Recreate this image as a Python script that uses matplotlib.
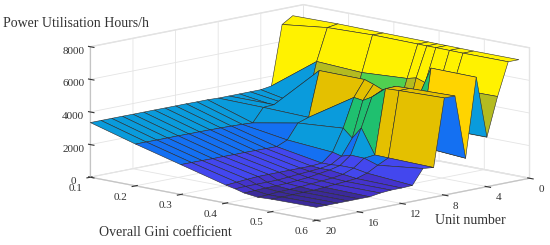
import numpy as np
import matplotlib
matplotlib.use('Agg')
import matplotlib.pyplot as plt
from matplotlib.colors import ListedColormap, BoundaryNorm

plt.rcParams['font.family'] = ['Liberation Serif', 'DejaVu Serif']
plt.rcParams['grid.color'] = '#e4e4e4'
plt.rcParams['grid.linewidth'] = 0.6

gini = [0.1, 0.2, 0.3, 0.4, 0.42, 0.44, 0.47, 0.5, 0.6]
units = list(range(1, 21))

# one row per unit number, one value per gini column
hours = [
    [7450, 7480, 7450, 7430, 7420, 7420, 7410, 7400, 7400],
    [7040, 7380, 7460, 7430, 7420, 7420, 7410, 7400, 7400],
    [3400, 5430, 5280, 5450, 5590, 5400, 5300, 5370, 5400],
    [3300, 2750, 3000, 3300, 3000, 3000, 3000, 3040, 3040],
    [3300, 2900, 3000, 3000, 3100, 3500, 4800, 6870, 6840],
    [3300, 2900, 3000, 3000, 3000, 2900, 2500, 2200, 2000],
    [3300, 3300, 5920, 5900, 5710, 5480, 5850, 5880, 5950],
    [3300, 3260, 3180, 4930, 4850, 5170, 5840, 5880, 5960],
    [3330, 2440, 2960, 3175, 2670, 3400, 1900, 1880, 1820],
    [3330, 2480, 2050, 1830, 1690, 1860, 1830, 1560, 1890],
    [3340, 2500, 1770, 1290, 1300, 1350, 1350, 1200, 980],
    [3340, 2520, 1780, 1240, 1200, 1200, 1100, 1000, 950],
    [3340, 2530, 1790, 1240, 1150, 1100, 1000, 950, 950],
    [3345, 2540, 1800, 1240, 1100, 1000, 950, 900, 900],
    [3345, 2540, 1800, 1240, 1050, 950, 900, 850, 800],
    [3345, 2550, 1810, 1240, 1000, 900, 850, 800, 800],
    [3350, 2550, 1810, 1240, 1000, 880, 820, 800, 800],
    [3350, 2550, 1820, 1200, 1000, 870, 800, 780, 800],
    [3350, 2560, 1830, 1150, 1000, 850, 750, 770, 800],
    [3350, 2560, 1830, 1100, 980, 830, 730, 770, 800],
]

levels = [0, 900, 1250, 1900, 2700, 3500, 4500, 5200, 5350, 5500, 6100, 7000, 8000]
colors = ['#3b2a9a', '#4433cc', '#4347ee', '#1470f2', '#0a9bdc', '#10b8c0',
          '#1fc06f', '#50d050', '#b4bb20', '#e4c000', '#ffd400', '#fff200']

z_ticks = [0, 2000, 4000, 6000, 8000]
gini_ticks = [0.1, 0.2, 0.3, 0.4, 0.5, 0.6]
unit_ticks = [0, 4, 8, 12, 16, 20]

X, Y = np.meshgrid(gini, units)
Z = np.array(hours, dtype=float)
cmap = ListedColormap(colors)
norm = BoundaryNorm(levels, cmap.N)

fig = plt.figure(figsize=(5.5, 2.45), dpi=100)
# square axes bigger than the figure so the surface is not clipped
ax = fig.add_axes([0.05, -0.612, 1.0, 2.245], projection='3d', proj_type='ortho')
ax.view_init(elev=11.2, azim=-45.5)
ax.set_box_aspect((317, 304, 133), zoom=0.81)

ax.plot_surface(X, Y, Z, rstride=1, cstride=1, facecolors=cmap(norm(Z)),
                edgecolor='#2a2a2a', linewidth=0.4, shade=False, antialiased=True)

ax.set_xlim(0.1, 0.6, view_margin=0)
ax.set_ylim(20, 0, view_margin=0)
ax.set_zlim(0, 8000, view_margin=0)
ax.set_xticks(gini_ticks)
ax.set_yticks(unit_ticks)
ax.set_zticks(z_ticks)
ax.tick_params(labelsize=8, colors='#333333', pad=0)
ax.zaxis.set_ticks_position('upper')
for lab in ax.get_xticklabels():
    lab.set_ha('right')
for lab in ax.get_yticklabels():
    lab.set_ha('left')

for axis in (ax.xaxis, ax.yaxis, ax.zaxis):
    axis.set_pane_color((1, 1, 1, 1))
    axis.pane.set_edgecolor('#e0e0e0')
    axis.line.set_color('#c4c4c4')

fig.text(0.005, 0.905, 'Power Utilisation Hours/h', fontsize=10, color='#333333', va='center')
fig.text(0.30, 0.05, 'Overall Gini coefficient', fontsize=10, color='#333333', ha='center', va='center')
fig.text(0.855, 0.10, 'Unit number', fontsize=10, color='#333333', ha='center', va='center')

fig.savefig('out.png', dpi=100)
